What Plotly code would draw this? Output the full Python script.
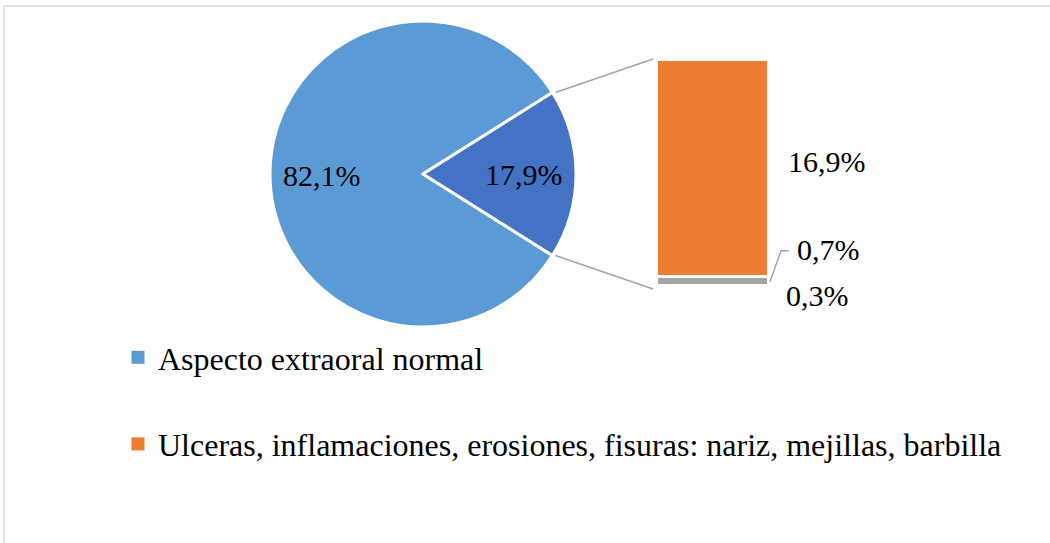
import plotly.graph_objects as go
import math

# ---------------- data ----------------
pie_labels = ["Aspecto extraoral normal", "Otros"]
pie_values = [82.1, 17.9]
pie_colors = ["#5B9BD5", "#4472C4"]

bar_labels = ["Ulceras, inflamaciones, erosiones, fisuras: nariz, mejillas, barbilla",
              "Otro 0,7", "Otro 0,3"]
bar_values = [16.9, 0.7, 0.3]          # top to bottom in the bar
bar_colors = ["#ED7D31", "#A5A5A5", "#FFFFFF"]

legend_names = ["Aspecto extraoral normal",
                "Ulceras, inflamaciones, erosiones, fisuras: nariz, mejillas, barbilla"]
legend_colors = ["#5B9BD5", "#ED7D31"]

def fmt(v):
    return f"{v:.1f}".replace(".", ",") + "%"

# ---------------- layout geometry (pixels) ----------------
W, H = 1050, 543
FONT = "Liberation Serif"
PIE_CX, PIE_CY, PIE_R = 423, 174, 153
BAR_L, BAR_R, BAR_TOP, BAR_BOT = 657, 769, 60, 290

def px(xp):   # pixel x -> paper
    return xp / W

def py(yp):   # pixel y -> paper
    return 1 - yp / H

total = sum(pie_values)
other = pie_values[1]
rotation = 90 + other / total * 180   # clockwise start angle so small slice faces east

fig = go.Figure()

fig.add_trace(go.Pie(
    labels=pie_labels, values=pie_values, sort=False, direction="clockwise",
    rotation=rotation, textinfo="none", hoverinfo="label+percent",
    marker=dict(colors=pie_colors, line=dict(color="white", width=3)),
    domain=dict(x=[px(PIE_CX - PIE_R), px(PIE_CX + PIE_R)],
                y=[py(PIE_CY + PIE_R), py(PIE_CY - PIE_R)]),
    showlegend=False,
))

# stacked bar (bottom first)
for name, val, col in zip(bar_labels[::-1], bar_values[::-1], bar_colors[::-1]):
    fig.add_trace(go.Bar(
        x=[0], y=[val], name=name, width=1,
        marker=dict(color=col, line=dict(color="white", width=3)),
        showlegend=False, xaxis="x", yaxis="y",
    ))

# legend entries
for i, (nm, col) in enumerate(zip(legend_names, legend_colors)):
    fig.add_trace(go.Scatter(
        x=[None], y=[None], mode="markers", name=nm, legendgroup=f"g{i}",
        marker=dict(symbol="square", size=13, color=col),
        xaxis="x", yaxis="y",
    ))

bar_total = sum(bar_values)

def bar_py(v):
    return BAR_BOT - v / bar_total * (BAR_BOT - BAR_TOP)

# ---------------- annotations ----------------
ann = []
# pie labels at slice mid-angles
start = rotation
for v in pie_values:
    ext = v / total * 360
    mid = math.radians(start + ext / 2)
    f = 0.66
    x = PIE_CX + f * PIE_R * math.sin(mid)
    y = PIE_CY + 1 - f * PIE_R * math.cos(mid)
    ann.append(dict(x=px(x), y=py(y), xref="paper", yref="paper", text=fmt(v),
                    xanchor="center", yanchor="middle",
                    showarrow=False, font=dict(family=FONT, size=30, color="black")))
    start += ext

# bar labels
cum = 0.0
mids = []
for v in bar_values[::-1]:
    mids.append(cum + v / 2)
    cum += v
mids = mids[::-1]   # aligned with bar_values (top to bottom)
shifts = [(58, 7), (59, 32), (48, -7)]
for v, m, (xs, ys) in zip(bar_values, mids, shifts):
    ann.append(dict(x=0.5, y=m, xref="x", yref="y", text=fmt(v), showarrow=False,
                    xanchor="center", yanchor="middle",
                    xshift=xs, yshift=ys, font=dict(family=FONT, size=30, color="black")))

# ---------------- shapes ----------------
shapes = []
# chart frame
shapes.append(dict(type="rect", xref="paper", yref="paper",
                   x0=px(4), x1=px(W + 10), y0=py(H + 10), y1=py(6),
                   line=dict(color="#D9D9D9", width=1.3), fillcolor="rgba(0,0,0,0)", layer="below"))
# connectors pie -> bar
half = math.radians(other / total * 180)
ex = PIE_CX + PIE_R * math.cos(half)
for sgn, by in ((1, BAR_TOP - 1), (-1, BAR_BOT - 1)):
    ey = PIE_CY - sgn * PIE_R * math.sin(half)
    shapes.append(dict(type="line", xref="paper", yref="paper",
                       x0=px(ex + 3), y0=py(ey), x1=px(BAR_L - 4), y1=py(by),
                       line=dict(color="#A5A5A5", width=1.5)))
# leader for 0,7% label
y_seg = bar_py(mids[1])
y_lab = y_seg - 31
path = (f"M {px(BAR_R + 1)},{py(y_seg)} L {px(BAR_R + 12)},{py(y_lab)} "
        f"L {px(BAR_R + 20)},{py(y_lab)}")
shapes.append(dict(type="path", xref="paper", yref="paper", path=path,
                   line=dict(color="#A5A5A5", width=1.5)))

fig.update_layout(
    width=W, height=H, margin=dict(l=0, r=0, t=0, b=0),
    paper_bgcolor="white", plot_bgcolor="rgba(0,0,0,0)",
    barmode="stack", bargap=0,
    xaxis=dict(domain=[px(BAR_L), px(BAR_R)], range=[-0.5, 0.5], visible=False, fixedrange=True),
    yaxis=dict(domain=[py(BAR_BOT), py(BAR_TOP)], range=[0, bar_total], visible=False, fixedrange=True),
    legend=dict(x=px(118), y=py(330), xanchor="left", yanchor="top",
                font=dict(family=FONT, size=32, color="black"),
                tracegroupgap=42, bgcolor="rgba(0,0,0,0)"),
    annotations=ann, shapes=shapes,
)

fig.write_html("out.html", config={"displayModeBar": False},
               post_script="document.body.style.margin='0';")
